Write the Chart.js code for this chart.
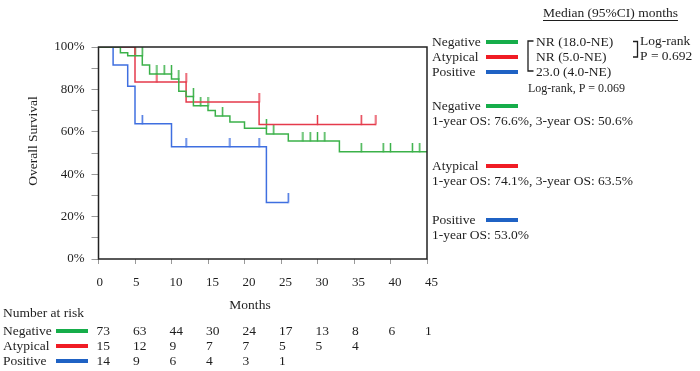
<!DOCTYPE html>
<html>
<head>
<meta charset="utf-8">
<script src="https://cdn.jsdelivr.net/npm/chart.js@4/dist/chart.umd.min.js"></script>
<style>
  html, body { margin: 0; padding: 0; background: #fff; }
  #wrap { width: 700px; height: 371px; }
</style>
</head>
<body>
<div id="wrap"><canvas id="km" width="700" height="371"></canvas></div>
<script>
// ── Data ────────────────────────────────────────────────────
const negTime = [0, 3, 4, 6, 7, 10, 11, 12, 13, 15, 16, 18, 20, 23, 26, 33, 45];
const negSurv = [100, 97.3, 95.9, 91.5, 87.3, 84.9, 79.1, 76.6, 72.3, 70.0, 67.5, 64.6, 61.7, 59.0, 55.7, 50.6, 50.6];
const negCensor = [5, 6, 8, 9, 10, 11, 13, 14, 15, 17, 23, 24, 28, 29, 30, 31, 36, 39, 40, 43, 44];

const atyTime = [0, 5, 12, 22, 38];
const atySurv = [100, 83.5, 74.1, 63.5, 63.5];
const atyCensor = [8, 12, 22, 30, 36, 38];

const posTime = [0, 2, 4, 5, 10, 23, 26];
const posSurv = [100, 91.5, 81.5, 63.8, 53.0, 26.7, 26.7];
const posCensor = [6, 12, 18, 22, 26];

const riskTimes = [0, 5, 10, 15, 20, 25, 30, 35, 40, 45];
const riskNeg = [73, 63, 44, 30, 24, 17, 13, 8, 6, 1];
const riskAty = [15, 12, 9, 7, 7, 5, 5, 4];
const riskPos = [14, 9, 6, 4, 3, 1];

const groups = ['Negative', 'Atypical', 'Positive'];
const curveColors = ['#3bb149', '#e53a4b', '#3f6fe0'];
const keyColors = ['#16ad4a', '#f01c24', '#1f62c4'];

const SERIF = '"Liberation Serif", "Times New Roman", serif';
const INK = '#1e1e1e';

// ── Helpers ─────────────────────────────────────────────────
function toPoints(times, surv) {
    return times.map((t, i) => ({ x: t, y: surv[i] }));
}

// survival just before time t (censor ticks sit on the pre-drop level)
function survBefore(times, surv, t) {
    let s = surv[0];
    for (let i = 0; i < times.length; i++) {
        if (times[i] < t) s = surv[i];
    }
    return s;
}

function censorPoints(times, surv, cens) {
    return cens.map(t => ({ x: t, y: survBefore(times, surv, t) }));
}

// upward tick used as point style for censored cases
function tickMark(color) {
    const c = document.createElement('canvas');
    c.width = 3;
    c.height = 18;
    const g = c.getContext('2d');
    g.strokeStyle = color;
    g.lineWidth = 1.5;
    g.beginPath();
    g.moveTo(1.5, 0);
    g.lineTo(1.5, 9.5);
    g.stroke();
    return c;
}

function curve(label, times, surv, color) {
    return {
        label: label,
        data: toPoints(times, surv),
        showLine: true,
        stepped: true,
        borderColor: color,
        borderWidth: 1.5,
        pointRadius: 0,
        fill: false
    };
}

function censors(label, times, surv, cens, color) {
    return {
        label: label + ' censored',
        data: censorPoints(times, surv, cens),
        showLine: false,
        pointStyle: tickMark(color),
        pointRadius: 5
    };
}

// ── Annotations: frame, titles, legend, risk table ─────────
const annotations = {
    id: 'annotations',
    afterDraw(chart) {
        const ctx = chart.ctx;
        const area = chart.chartArea;
        const xs = chart.scales.x;
        ctx.save();

        // plot frame
        ctx.strokeStyle = '#222';
        ctx.lineWidth = 1.5;
        ctx.strokeRect(area.left, area.top, area.right - area.left, area.bottom - area.top);

        ctx.fillStyle = INK;
        ctx.textBaseline = 'middle';

        // axis titles
        ctx.font = '13.5px ' + SERIF;
        ctx.textAlign = 'center';
        ctx.fillText('Months', 250, 305);
        ctx.save();
        ctx.translate(33, 141);
        ctx.rotate(-Math.PI / 2);
        ctx.fillText('Overall Survival', 0, 0);
        ctx.restore();

        const seg = (x1, x2, y, color) => {
            ctx.strokeStyle = color;
            ctx.lineWidth = 4;
            ctx.beginPath();
            ctx.moveTo(x1, y);
            ctx.lineTo(x2, y);
            ctx.stroke();
        };

        // number at risk
        ctx.textAlign = 'left';
        ctx.fillText('Number at risk', 3, 313);
        const rows = [riskNeg, riskAty, riskPos];
        const rowY = [331, 346, 361];
        rows.forEach((vals, r) => {
            ctx.fillStyle = INK;
            ctx.fillText(groups[r], 3, rowY[r]);
            seg(56, 88, rowY[r], keyColors[r]);
            ctx.fillStyle = INK;
            vals.forEach((v, i) => {
                ctx.fillText(String(v), xs.getPixelForValue(riskTimes[i]) - 2, rowY[r]);
            });
        });

        // median header
        ctx.fillStyle = INK;
        ctx.fillText('Median (95%CI) months', 543, 13);
        const hw = ctx.measureText('Median (95%CI) months').width;
        ctx.strokeStyle = INK;
        ctx.lineWidth = 1;
        ctx.beginPath();
        ctx.moveTo(543, 20.5);
        ctx.lineTo(543 + hw, 20.5);
        ctx.stroke();

        // key with medians
        const keyY = [42, 57, 72];
        const medians = ['NR (18.0-NE)', 'NR (5.0-NE)', '23.0 (4.0-NE)'];
        keyY.forEach((y, i) => {
            ctx.fillStyle = INK;
            ctx.fillText(groups[i], 432, y);
            seg(486, 518, y, keyColors[i]);
            ctx.fillStyle = INK;
            ctx.fillText(medians[i], 536, y);
        });

        // brackets
        ctx.strokeStyle = INK;
        ctx.lineWidth = 1.3;
        ctx.beginPath();
        ctx.moveTo(533.5, 41);
        ctx.lineTo(528, 41);
        ctx.lineTo(528, 71);
        ctx.lineTo(533.5, 71);
        ctx.moveTo(633, 41.5);
        ctx.lineTo(637.5, 41.5);
        ctx.lineTo(637.5, 57);
        ctx.lineTo(633, 57);
        ctx.stroke();

        ctx.fillStyle = INK;
        ctx.font = '13.5px ' + SERIF;
        ctx.fillText('Log-rank', 640, 41);
        ctx.fillText('P = 0.692', 640, 56);
        ctx.font = '12px ' + SERIF;
        ctx.fillText('Log-rank, P = 0.069', 528, 89);

        // 1- and 3-year OS blocks
        ctx.font = '13.5px ' + SERIF;
        const osLines = [
            '1-year OS: 76.6%, 3-year OS: 50.6%',
            '1-year OS: 74.1%, 3-year OS: 63.5%',
            '1-year OS: 53.0%'
        ];
        const osY = [106, 166, 220];
        osY.forEach((y, i) => {
            ctx.fillStyle = INK;
            ctx.fillText(groups[i], 432, y);
            seg(486, 518, y, keyColors[i]);
            ctx.fillStyle = INK;
            ctx.fillText(osLines[i], 432, y + 15.5);
        });

        ctx.restore();
    }
};

// ── Chart ───────────────────────────────────────────────────
new Chart(document.getElementById('km'), {
    type: 'scatter',
    data: {
        datasets: [
            curve(groups[0], negTime, negSurv, curveColors[0]),
            curve(groups[1], atyTime, atySurv, curveColors[1]),
            curve(groups[2], posTime, posSurv, curveColors[2]),
            censors(groups[0], negTime, negSurv, negCensor, curveColors[0]),
            censors(groups[1], atyTime, atySurv, atyCensor, curveColors[1]),
            censors(groups[2], posTime, posSurv, posCensor, curveColors[2])
        ]
    },
    options: {
        responsive: false,
        animation: false,
        devicePixelRatio: 1,
        layout: { padding: { top: 47, right: 273, left: 0, bottom: 0 } },
        plugins: {
            legend: { display: false },
            tooltip: { enabled: false }
        },
        scales: {
            x: {
                type: 'linear',
                min: 0,
                max: 45,
                afterFit: s => { s.height = 112; },
                border: { display: false },
                grid: { drawOnChartArea: false, tickLength: 5, color: '#999', tickWidth: 1 },
                ticks: {
                    stepSize: 5,
                    align: 'start',
                    labelOffset: -2,
                    padding: 11,
                    color: INK,
                    font: { family: SERIF, size: 13 }
                }
            },
            y: {
                min: 0,
                max: 100,
                afterFit: s => { s.width = 98.5; },
                border: { display: false },
                grid: { drawOnChartArea: false, tickLength: 7, color: '#999', tickWidth: 1 },
                ticks: {
                    stepSize: 10,
                    padding: 7,
                    color: INK,
                    font: { family: SERIF, size: 13 },
                    callback: v => (v % 20 === 0 ? v + '%' : '')
                }
            }
        }
    },
    plugins: [annotations]
});
</script>
</body>
</html>
